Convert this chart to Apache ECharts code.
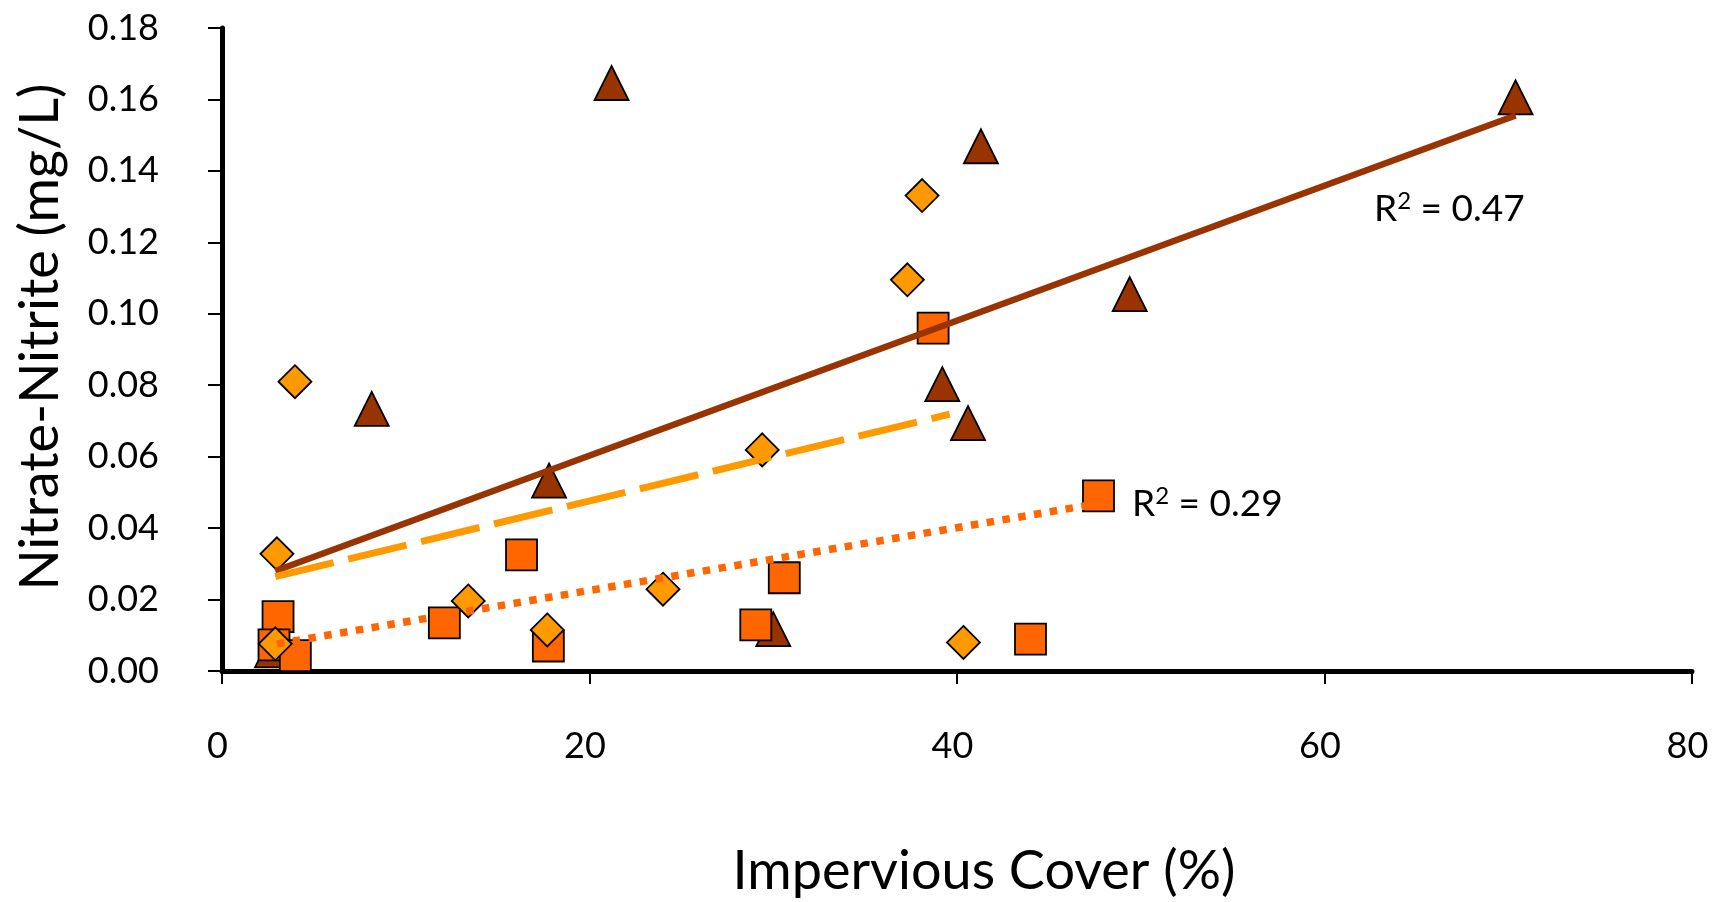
<!DOCTYPE html>
<html>
<head>
<meta charset="utf-8">
<script src="https://cdn.jsdelivr.net/npm/echarts@6/dist/echarts.min.js"></script>
<style>
  html, body { margin: 0; padding: 0; background: #ffffff; }
  #chart { width: 1727px; height: 902px; }
</style>
</head>
<body>
<div id="chart"></div>
<script>
// ---- data ----
var xTicks = [0, 20, 40, 60, 80];
var yTicks = ['0.00', '0.02', '0.04', '0.06', '0.08', '0.10', '0.12', '0.14', '0.16', '0.18'];

// triangles (dark brown)
var triangleX = [21.2, 70.4, 41.3, 49.4, 39.2, 40.6, 8.15, 17.8, 30.0, 2.72];
var triangleY = [0.1646, 0.1606, 0.1469, 0.1055, 0.0803, 0.0694, 0.0734, 0.0533, 0.0117, 0.0058];

// squares (orange-red)
var squareX = [38.7, 47.7, 16.3, 30.6, 12.1, 29.05, 44.0, 17.76, 3.05, 2.83, 3.99];
var squareY = [0.0960, 0.0490, 0.0325, 0.0261, 0.0135, 0.0129, 0.0089, 0.0070, 0.0152, 0.0073, 0.0043];

// diamonds (orange)
var diamondX = [38.1, 37.3, 3.97, 29.4, 2.99, 13.4, 24.0, 17.7, 40.35, 2.9];
var diamondY = [0.1331, 0.1095, 0.0810, 0.0619, 0.0328, 0.0196, 0.0229, 0.0115, 0.0080, 0.0076];

// trendline end points
var trendSolidX = [2.9, 70.4];
var trendSolidY = [0.0280, 0.1555];
var trendDashX = [2.9, 39.6];
var trendDashY = [0.0264, 0.0719];
var trendDotX = [2.99, 47.6];
var trendDotY = [0.0076, 0.0468];

var r2Solid = '0.47';
var r2Dot = '0.29';

function pairs(xs, ys) {
  return xs.map(function (x, i) { return [x, ys[i]]; });
}

var FONT = 'Lato, "Open Sans", sans-serif';
var chart = echarts.init(document.getElementById('chart'), null, { renderer: 'canvas' });

function r2Text(x, y, val) {
  return {
    type: 'text',
    x: x,
    y: y,
    style: {
      text: '{a|R}{s|2}{a| = ' + val + '}',
      textAlign: 'left',
      textVerticalAlign: 'middle',
      rich: {
        a: { fontFamily: FONT, fontSize: 37, color: '#000', lineHeight: 40 },
        s: { fontFamily: FONT, fontSize: 24, color: '#000', verticalAlign: 'top', lineHeight: 26 }
      }
    }
  };
}

var option = {
  backgroundColor: '#ffffff',
  animation: false,
  grid: { left: 222, right: 35, top: 28, bottom: 231, containLabel: false },
  xAxis: {
    type: 'value',
    min: xTicks[0],
    max: xTicks[xTicks.length - 1],
    interval: 20,
    axisLine: { show: true, onZero: false, lineStyle: { color: '#000', width: 5 } },
    axisTick: { show: true, inside: false, length: 13, lineStyle: { color: '#000', width: 2 } },
    splitLine: { show: false },
    axisLabel: {
      margin: 57,
      fontFamily: FONT,
      fontSize: 36,
      color: '#000',
      padding: [0, 9, 0, 0],
      showMinLabel: true,
      showMaxLabel: true
    }
  },
  yAxis: {
    type: 'value',
    min: 0,
    max: 0.18,
    interval: 0.02,
    axisLine: { show: true, onZero: false, lineStyle: { color: '#000', width: 5 } },
    axisTick: { show: true, inside: false, length: 14, lineStyle: { color: '#000', width: 2 } },
    splitLine: { show: false },
    axisLabel: {
      margin: 63,
      fontFamily: FONT,
      fontSize: 36,
      color: '#000',
      padding: [0, 0, 12, 0],
      formatter: function (v) {
        var idx = Math.round(v / 0.02);
        return yTicks[idx] !== undefined ? yTicks[idx] : v.toFixed(2);
      }
    }
  },
  series: [
    {
      name: 'Triangles',
      type: 'scatter',
      z: 2,
      symbol: 'triangle',
      symbolSize: 34,
      itemStyle: { color: '#993300', borderColor: '#000', borderWidth: 1.8, opacity: 1 },
      data: pairs(triangleX, triangleY)
    },
    {
      name: 'Squares',
      type: 'scatter',
      z: 2,
      symbol: 'rect',
      symbolSize: 31,
      itemStyle: { color: '#FF6600', borderColor: '#000', borderWidth: 1.8, opacity: 1 },
      data: pairs(squareX, squareY)
    },
    {
      name: 'Diamonds',
      type: 'scatter',
      z: 2,
      symbol: 'diamond',
      symbolSize: 33,
      itemStyle: { color: '#FF9900', borderColor: '#000', borderWidth: 1.8, opacity: 1 },
      data: pairs(diamondX, diamondY)
    },
    {
      name: 'Trend (triangles)',
      type: 'line',
      z: 3,
      showSymbol: false,
      symbol: 'none',
      silent: true,
      lineStyle: { color: '#993300', width: 6.5, type: 'solid', cap: 'butt' },
      data: pairs(trendSolidX, trendSolidY)
    },
    {
      name: 'Trend (diamonds)',
      type: 'line',
      z: 3,
      showSymbol: false,
      symbol: 'none',
      silent: true,
      lineStyle: { color: '#FF9900', width: 7, type: [60, 15], cap: 'butt' },
      data: pairs(trendDashX, trendDashY)
    },
    {
      name: 'Trend (squares)',
      type: 'line',
      z: 3,
      showSymbol: false,
      symbol: 'none',
      silent: true,
      lineStyle: { color: '#FF6600', width: 7.5, type: [7.5, 8.5], cap: 'butt' },
      data: pairs(trendDotX, trendDotY)
    }
  ],
  graphic: [
    {
      type: 'text',
      x: 41,
      y: 337,
      rotation: Math.PI / 2,
      style: {
        text: 'Nitrate-Nitrite (mg/L)',
        font: '54px ' + FONT,
        fill: '#000',
        textAlign: 'center',
        textVerticalAlign: 'middle'
      }
    },
    {
      type: 'text',
      x: 984,
      y: 872,
      style: {
        text: 'Impervious Cover (%)',
        font: '54px ' + FONT,
        fill: '#000',
        textAlign: 'center',
        textVerticalAlign: 'middle'
      }
    },
    r2Text(1374, 209, r2Solid),
    r2Text(1132, 504, r2Dot)
  ]
};

chart.setOption(option);
</script>
</body>
</html>
